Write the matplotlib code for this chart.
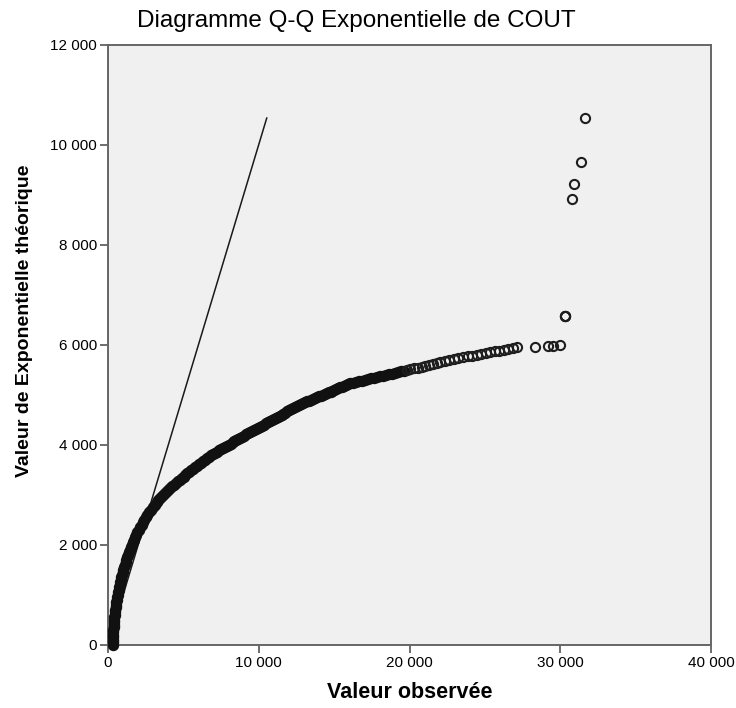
import matplotlib
matplotlib.use("Agg")
import matplotlib.pyplot as plt
from matplotlib.ticker import FuncFormatter

plt.rcParams["font.family"] = ["Liberation Sans", "DejaVu Sans"]

# dense lower part of the band (read going up the theoretical axis)
low_theo = [0, 50, 100, 150, 200, 250, 300, 350, 400, 450, 500, 550, 600, 650,
            700, 750, 800, 850, 900, 950, 1000, 1050, 1100, 1150, 1200, 1250,
            1300, 1350, 1400, 1450, 1500, 1550, 1600, 1650, 1700, 1750, 1800,
            1850, 1900, 1950, 2000, 2050, 2100, 2150, 2200, 2250, 2300, 2350,
            2400, 2450, 2500, 2550, 2600, 2650, 2700, 2750, 2800, 2850, 2900]
low_obs = [330, 330, 335, 340, 345, 352, 360, 370, 380, 395, 410, 428, 447, 468,
           490, 514, 538, 560, 580, 610, 640, 672, 705, 738, 772, 806,
           846, 890, 935, 980, 1020, 1060, 1110, 1165, 1222, 1280, 1345,
           1405, 1465, 1530, 1600, 1670, 1740, 1810, 1880, 1950, 2040, 2130,
           2225, 2320, 2420, 2515, 2620, 2740, 2860, 2980, 3100, 3220, 3340]

# middle part of the band (read going along the observed axis)
mid_obs = [3450, 3580, 3710, 3840, 3970, 4100, 4230, 4360, 4490, 4620, 4750,
           4880, 5010, 5140, 5270, 5400, 5530, 5660, 5790, 5920, 6050, 6180,
           6310, 6440, 6570, 6700, 6830, 6960, 7090, 7220, 7350, 7480, 7610,
           7740, 7870, 8000, 8130, 8260, 8390, 8520, 8650, 8780, 8910, 9040,
           9170, 9300, 9430, 9560, 9690, 9820, 9950, 10080, 10210, 10340,
           10470, 10600, 10730, 10860, 10990, 11120, 11250, 11380, 11510,
           11640, 11770, 11900, 12030, 12160, 12290, 12420, 12550, 12680,
           12810, 12940, 13070, 13200, 13330, 13460, 13590, 13720, 13850,
           13980, 14110, 14240, 14370, 14500, 14630, 14760, 14890, 15020,
           15150, 15280, 15410, 15540, 15670, 15800, 15930, 16060,
           16250, 16450, 16650, 16850, 17050, 17250, 17450, 17650, 17850,
           18050, 18250, 18450, 18650, 18850, 19050, 19250, 19450, 19650]
mid_theo = [2933, 2972, 3012, 3051, 3090, 3129, 3168, 3207, 3240, 3272, 3303,
            3335, 3366, 3398, 3430, 3461, 3493, 3524, 3556, 3585, 3615, 3644,
            3674, 3703, 3733, 3762, 3791, 3820, 3844, 3866, 3889, 3912, 3935,
            3957, 3980, 4003, 4025, 4048, 4071, 4093, 4116, 4139, 4161, 4184,
            4207, 4229, 4252, 4274, 4296, 4318, 4339, 4361, 4383, 4405,
            4427, 4449, 4470, 4492, 4514, 4536, 4558, 4580, 4601,
            4623, 4645, 4667, 4689, 4711, 4733, 4755, 4777, 4799,
            4819, 4835, 4851, 4868, 4884, 4900, 4917, 4933, 4949,
            4966, 4982, 4998, 5015, 5031, 5048, 5064, 5081, 5097,
            5113, 5130, 5146, 5163, 5179, 5195, 5212, 5228,
            5243, 5257, 5271, 5285, 5299, 5313, 5327, 5341, 5355,
            5369, 5383, 5397, 5411, 5425, 5439, 5453, 5467, 5481]

# upper tail, where single circles start to show
tail_obs = [19850, 20050, 20300, 20550, 20800, 21050, 21300, 21550, 21800,
            22050, 22350, 22650, 22950, 23250, 23550, 23850, 24150, 24450,
            24750, 25050, 25350, 25650, 25950, 26250, 26550, 26850, 27150,
            28300, 29200, 29550, 29990,
            30320, 30320, 30320, 30810, 30920, 31385, 31630]
tail_theo = [5495, 5509, 5527, 5544, 5562, 5579, 5597, 5614, 5632,
             5650, 5670, 5689, 5709, 5728, 5748, 5767, 5785, 5802,
             5818, 5835, 5851, 5868, 5884, 5900, 5916, 5932, 5948,
             5965, 5975, 5980, 5990,
             6575, 6575, 6575, 8920, 9210, 9650, 10530]

dense_obs = low_obs + mid_obs
dense_theo = low_theo + mid_theo
theoretical = dense_theo + tail_theo

x_ticks = [0, 10000, 20000, 30000, 40000]
y_ticks = [0, 2000, 4000, 6000, 8000, 10000, 12000]

fig = plt.figure(figsize=(7.36, 7.08), dpi=100)
ax = fig.add_axes([108 / 736, 1 - 645 / 708, 603 / 736, 600.5 / 708])
ax.set_facecolor("#f0f0f0")

# reference line y = x over the range of the theoretical values
lo, hi = min(theoretical), max(theoretical)
ax.plot([lo, hi], [lo, hi], color="#1a1a1a", lw=1.1, zorder=2)

# thousands of overlapping rings make the lower band solid
ax.plot(dense_obs, dense_theo, linestyle="none", marker="o", ms=5.6,
        mfc="none", mec="#111111", mew=2.6, zorder=3, clip_on=False)
ax.plot(tail_obs, tail_theo, linestyle="none", marker="o", ms=6.6,
        mfc="none", mec="#1e1e1e", mew=1.5, zorder=3, clip_on=False)

ax.set_xlim(0, 40000)
ax.set_ylim(0, 12000)
ax.set_xticks(x_ticks)
ax.set_yticks(y_ticks)
fmt = FuncFormatter(lambda v, p: f"{v:,.0f}".replace(",", " "))
ax.xaxis.set_major_formatter(fmt)
ax.yaxis.set_major_formatter(fmt)
ax.tick_params(direction="out", length=6, width=1.2, color="#555555",
               labelsize=11, pad=2)

for side in ["left", "bottom", "top", "right"]:
    ax.spines[side].set_color("#666666")
    ax.spines[side].set_linewidth(1.4)

fig.text(356 / 736, 1 - 21 / 708, "Diagramme Q-Q Exponentielle de COUT",
         ha="center", va="center", fontsize=17.5)
fig.text(410 / 736, 1 - 692 / 708, "Valeur observée", ha="center",
         va="center", fontsize=15.5, fontweight="bold")
fig.text(25 / 736, 1 - 321 / 708, "Valeur de Exponentielle théorique",
         ha="center", va="center", rotation=90, fontsize=14,
         fontweight="bold")

fig.savefig("out.png", dpi=100)
